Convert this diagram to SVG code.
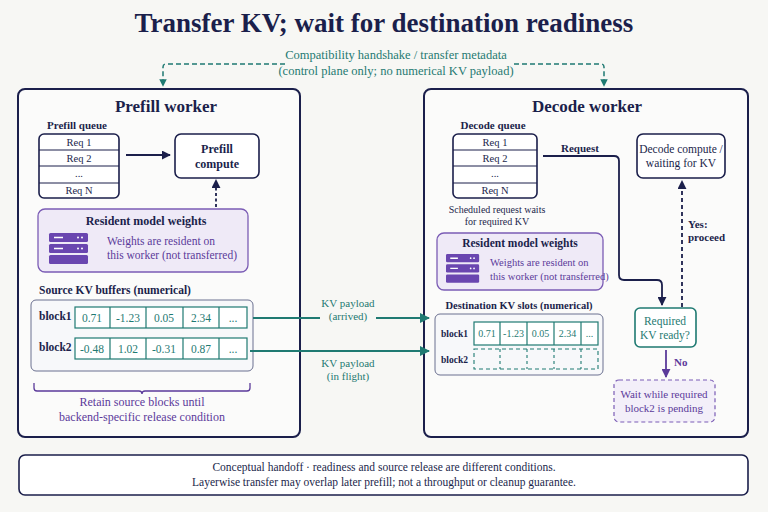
<svg xmlns="http://www.w3.org/2000/svg" width="768" height="512" viewBox="0 0 768 512">
<defs>
<style>
text{font-family:"Liberation Serif","DejaVu Serif",serif;fill:#1b1f4b}
.b{font-weight:bold}
.t{fill:#1f7a72}
.p{fill:#5b3a9a}
.panel{fill:#fbfbfa;stroke:#1b1f4b;stroke-width:2}
.box{fill:#fff;stroke:#1b1f4b;stroke-width:1.6}
.wbox{fill:#efeaf7;stroke:#7b5cb5;stroke-width:1.3}
.kv{fill:#f7f8fa;stroke:#6b7090;stroke-width:1}
.cell{fill:#fff;stroke:#1f7a72;stroke-width:1.2}
.nav{stroke:#1b1f4b;stroke-width:1.8;fill:none}
.teal{stroke:#1f7a72;stroke-width:2;fill:none}
</style>
<marker id="an" viewBox="0 0 10 10" refX="9" refY="5" markerWidth="5" markerHeight="5" orient="auto"><path d="M0,0L10,5L0,10z" fill="#1b1f4b"/></marker>
<marker id="at" viewBox="0 0 10 10" refX="9" refY="5" markerWidth="5" markerHeight="5" orient="auto"><path d="M0,0L10,5L0,10z" fill="#1f7a72"/></marker>
<marker id="ap" viewBox="0 0 10 10" refX="9" refY="5" markerWidth="5" markerHeight="5" orient="auto"><path d="M0,0L10,5L0,10z" fill="#5b3a9a"/></marker>
<g id="srv"><rect x="0" y="0" width="39" height="9" rx="1.5" fill="#6a46b0"/><rect x="0" y="11" width="39" height="9" rx="1.5" fill="#6a46b0"/><rect x="0" y="22" width="39" height="9" rx="1.5" fill="#6a46b0"/><path d="M5,4.5h9M5,15.5h9" stroke="#fff" stroke-width="1.5"/><circle cx="29" cy="4.5" r="1" fill="#fff"/><circle cx="33" cy="4.5" r="1" fill="#fff"/><circle cx="29" cy="15.5" r="1" fill="#fff"/><circle cx="33" cy="15.5" r="1" fill="#fff"/></g>
</defs>
<rect width="768" height="512" fill="#f7f7f4"/>
<text x="384" y="32" text-anchor="middle" class="b" font-size="27">Transfer KV; wait for destination readiness</text>
<text x="396" y="59" text-anchor="middle" class="t" font-size="12.5">Compatibility handshake / transfer metadata</text>
<text x="396" y="75" text-anchor="middle" class="t" font-size="12.5">(control plane only; no numerical KV payload)</text>

<g id="prefill-worker">
<rect class="panel" x="18" y="89" width="282" height="348" rx="7"/>
<text x="166" y="112" text-anchor="middle" class="b" font-size="17">Prefill worker</text>
</g>
<g id="prefill-queue">
<text x="77" y="129" text-anchor="middle" class="b" font-size="11">Prefill queue</text>
<rect class="box" x="39" y="134" width="80" height="64" rx="5"/>
<path d="M39,150H119M39,166H119M39,183H119" stroke="#1b1f4b" stroke-width="1"/>
<g font-size="10.5" text-anchor="middle"><text x="79" y="146">Req 1</text><text x="79" y="162">Req 2</text><text x="79" y="177">...</text><text x="79" y="194">Req N</text></g>
</g>
<g id="prefill-compute">
<rect class="box" x="175" y="134" width="84" height="44" rx="6"/>
<text x="217" y="153" text-anchor="middle" class="b" font-size="12">Prefill</text>
<text x="217" y="168" text-anchor="middle" class="b" font-size="12">compute</text>
</g>
<g id="prefill-weights">
<rect class="wbox" x="38" y="209" width="210" height="63" rx="7"/>
<text x="146" y="225" text-anchor="middle" class="b" font-size="12">Resident model weights</text>
<use href="#srv" x="49" y="233"/>
<text x="107" y="245" class="p" font-size="11.5">Weights are resident on</text>
<text x="107" y="259" class="p" font-size="11.5">this worker (not transferred)</text>
</g>
<g id="source-kv">
<text x="39" y="294" class="b" font-size="11.5">Source KV buffers (numerical)</text>
<rect class="kv" x="31" y="300" width="222" height="71" rx="5"/>
<text x="39" y="320" class="b" font-size="11.5">block1</text>
<text x="39" y="351" class="b" font-size="11.5">block2</text>
<rect class="cell" x="75" y="307" width="172" height="21"/><rect class="cell" x="75" y="338" width="172" height="21"/>
<path d="M110,307v21M146,307v21M183,307v21M219,307v21M110,338v21M146,338v21M183,338v21M219,338v21" stroke="#1f7a72" stroke-width="1.2"/>
<g font-size="11.5" text-anchor="middle">
<text x="92" y="322" class="t">0.71</text><text x="128" y="322" class="t">-1.23</text><text x="164" y="322" class="t">0.05</text><text x="201" y="322" class="t">2.34</text><text x="233" y="322" class="t">...</text>
<text x="92" y="353" class="t">-0.48</text><text x="128" y="353" class="t">1.02</text><text x="164" y="353" class="t">-0.31</text><text x="201" y="353" class="t">0.87</text><text x="233" y="353" class="t">...</text>
</g>
<path d="M34,383v5q0,3 3,3H139q3,0 3,3q0-3 3-3H247q3,0 3-3v-5" fill="none" stroke="#5b3a9a" stroke-width="1.3"/>
<text x="142" y="406" text-anchor="middle" class="p" font-size="12">Retain source blocks until</text>
<text x="142" y="421" text-anchor="middle" class="p" font-size="12">backend-specific release condition</text>
</g>

<g id="decode-worker">
<rect class="panel" x="424" y="89" width="324" height="348" rx="7"/>
<text x="587" y="112" text-anchor="middle" class="b" font-size="17">Decode worker</text>
</g>
<g id="decode-queue">
<text x="493" y="129" text-anchor="middle" class="b" font-size="11">Decode queue</text>
<rect class="box" x="453" y="134" width="84" height="64" rx="5"/>
<path d="M453,150H537M453,166H537M453,183H537" stroke="#1b1f4b" stroke-width="1"/>
<g font-size="10.5" text-anchor="middle"><text x="495" y="146">Req 1</text><text x="495" y="162">Req 2</text><text x="495" y="177">...</text><text x="495" y="194">Req N</text></g>
<text x="497" y="213" text-anchor="middle" font-size="10">Scheduled request waits</text>
<text x="497" y="225" text-anchor="middle" font-size="10">for required KV</text>
</g>
<g id="decode-compute">
<rect class="box" x="637" y="134" width="88" height="44" rx="6"/>
<text x="681" y="153" text-anchor="middle" font-size="11.5">Decode compute /</text>
<text x="681" y="167" text-anchor="middle" font-size="11.5">waiting for KV</text>
</g>
<g id="decode-weights">
<rect class="wbox" x="437" y="233" width="166" height="57" rx="7"/>
<text x="520" y="247" text-anchor="middle" class="b" font-size="11.5">Resident model weights</text>
<use href="#srv" transform="translate(446,254) scale(0.85,0.93)"/>
<text x="490" y="266" class="p" font-size="10.5">Weights are resident on</text>
<text x="490" y="280" class="p" font-size="10.5">this worker (not transferred)</text>
</g>
<g id="dest-kv">
<text x="519" y="309" text-anchor="middle" class="b" font-size="10.5">Destination KV slots (numerical)</text>
<rect class="kv" x="435" y="314" width="168" height="61" rx="5"/>
<text x="441" y="337" class="b" font-size="9.5">block1</text>
<text x="441" y="363" class="b" font-size="9.5">block2</text>
<rect class="cell" x="474" y="322" width="124" height="23"/>
<path d="M500,322v23M527,322v23M554,322v23M581,322v23" stroke="#1f7a72" stroke-width="1.2"/>
<g font-size="10" text-anchor="middle">
<text x="487" y="337" class="t">0.71</text><text x="513.5" y="337" class="t">-1.23</text><text x="540.5" y="337" class="t">0.05</text><text x="567.5" y="337" class="t">2.34</text><text x="589.5" y="337" class="t">...</text>
</g>
<rect x="474" y="349" width="124" height="20" fill="none" stroke="#1f7a72" stroke-width="1.1" stroke-dasharray="4 3"/>
<path d="M500,349v20M527,349v20M554,349v20M581,349v20" stroke="#1f7a72" stroke-width="1.1" stroke-dasharray="3 3"/>
</g>
<g id="kv-ready">
<rect x="635" y="308" width="61" height="39" rx="5" fill="#fff" stroke="#1f7a72" stroke-width="1.6"/>
<text x="665" y="325" text-anchor="middle" class="t" font-size="11.5">Required</text>
<text x="665" y="339" text-anchor="middle" class="t" font-size="11.5">KV ready?</text>
</g>
<g id="wait-box">
<rect x="614" y="380" width="101" height="42" rx="5" fill="#f3eff9" stroke="#7b5cb5" stroke-width="1.2" stroke-dasharray="4 3"/>
<text x="664" y="398" text-anchor="middle" class="p" font-size="11">Wait while required</text>
<text x="664" y="412" text-anchor="middle" class="p" font-size="11">block2 is pending</text>
</g>
<g id="footer">
<rect x="19" y="455" width="729" height="40" rx="6" fill="#fff" stroke="#1b1f4b" stroke-width="1.6"/>
<text x="384" y="471" text-anchor="middle" font-size="11.5">Conceptual handoff  ·  readiness and source release are different conditions.</text>
<text x="384" y="486" text-anchor="middle" font-size="11.5">Layerwise transfer may overlap later prefill; not a throughput or cleanup guarantee.</text>
</g>

<g id="connectors">
<path d="M285,64H166q-3,0-3,3V86" fill="none" stroke="#1f7a72" stroke-width="1.5" stroke-dasharray="5 3" marker-end="url(#at)"/>
<path d="M514,64H601q3,0 3,3V86" fill="none" stroke="#1f7a72" stroke-width="1.5" stroke-dasharray="5 3" marker-end="url(#at)"/>
<path d="M126,155H170" class="nav" marker-end="url(#an)"/>
<path d="M216,207V180" class="nav" stroke-dasharray="3 2.5" marker-end="url(#an)"/>
<path d="M253,318H320M376,318H429" class="teal" marker-end="url(#at)"/>
<path d="M250,351H429" class="teal" marker-end="url(#at)"/>
<text x="348" y="307" text-anchor="middle" class="t" font-size="11">KV payload</text>
<text x="348" y="320" text-anchor="middle" class="t" font-size="11">(arrived)</text>
<text x="348" y="367" text-anchor="middle" class="t" font-size="11">KV payload</text>
<text x="348" y="380" text-anchor="middle" class="t" font-size="11">(in flight)</text>
<path d="M543,156H614q5,0 5,5V275q0,5 5,5H657q5,0 5,5V305" class="nav" marker-end="url(#an)"/>
<text x="580" y="152" text-anchor="middle" class="b" font-size="11">Request</text>
<path d="M682,307V181" class="nav" stroke-dasharray="4 3" marker-end="url(#an)"/>
<text x="688" y="228" class="b" font-size="11">Yes:</text>
<text x="688" y="241" class="b" font-size="11">proceed</text>
<path d="M666,350V377" fill="none" stroke="#5b3a9a" stroke-width="1.8" marker-end="url(#ap)"/>
<text x="674" y="366" class="p b" font-size="11">No</text>
</g>
</svg>
